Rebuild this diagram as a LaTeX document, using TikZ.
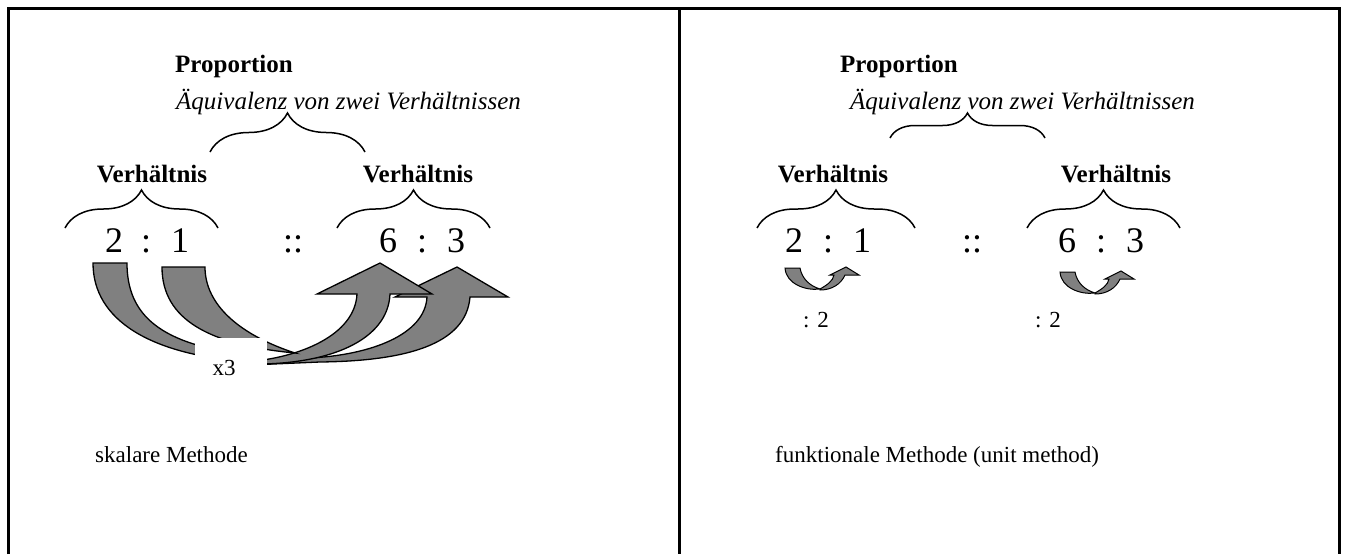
\documentclass[tikz,border=0pt]{standalone}
\usepackage{fontspec}
\setmainfont{Liberation Serif}
\usetikzlibrary{decorations.pathreplacing}
\definecolor{arrowgray}{HTML}{808080}

\begin{document}
\begin{tikzpicture}[x=1pt,y=-1pt,
  lbl/.style={font=\fontsize{25}{30}\selectfont\bfseries,inner sep=0pt,anchor=base},
  ital/.style={font=\fontsize{25}{30}\selectfont\itshape,inner sep=0pt,anchor=base west},
  num/.style={font=\fontsize{36}{40}\selectfont,inner sep=0pt,anchor=base},
  txt/.style={font=\fontsize{23}{28}\selectfont,inner sep=0pt,anchor=base west},
  brc/.style={decorate,decoration={brace,amplitude=#1},line width=1.5pt},
  bigarrow/.style={fill=arrowgray,draw=black,line width=1.3pt,line join=miter}]
  \useasboundingbox (0,0) rectangle (1348,554);
  % frame and divider
  \draw[line width=3pt] (8,554) -- (8,8) -- (1339,8) -- (1339,554);
  \draw[line width=3pt] (679,8) -- (679,554);

  % left panel: skalare Methode
  \node[lbl,anchor=base west] (propL) at (175,72) {Proportion};
  \node[ital] (aeqL) at (176,109) {Äquivalenz von zwei Verhältnissen};
  \draw[brc=39pt] (210,152) -- (365,152);
  \node[lbl] (verhLa) at (152,182) {Verhältnis};
  \node[lbl] (verhLb) at (418,182) {Verhältnis};
  \draw[brc=38pt] (65,228) -- (218,228);
  \draw[brc=38pt] (337,228) -- (490,228);
  \foreach \x/\t [count=\k] in {114/2,146/:,180/1,293/::,388/6,422/:,456/3}
    \node[num] (numL\k) at (\x,252) {\t};
  % up arrows to 6 and 3
  \draw[bigarrow] (250,364) -- (310,358) .. controls (370,355) and (425,335) .. (427,297)
    -- (395,297) -- (457,267) -- (508,297) -- (470,297)
    .. controls (466,345) and (405,361) .. (320,362) -- (250,365) -- cycle;
  \draw[bigarrow] (245,362) .. controls (300,358) and (355,335) .. (357,294)
    -- (317,294) -- (380,263) -- (432,294) -- (390,294)
    .. controls (388,340) and (330,366) .. (245,364) -- cycle;
  % bands down from 2 and 1
  \draw[bigarrow] (162,267) -- (205,267) .. controls (205,305) and (240,335) .. (295,353)
    .. controls (210,345) and (162,320) .. (162,267) -- cycle;
  \draw[bigarrow] (93,263) -- (127,263) .. controls (127,315) and (160,345) .. (250,355)
    -- (250,362) .. controls (150,355) and (93,320) .. (93,263) -- cycle;
  \node[fill=white,minimum width=72pt,minimum height=44pt,inner sep=0pt] (xbox) at (231,360) {};
  \node[txt,anchor=base] (xthree) at (224,375) {x3};
  \node[txt] (skal) at (95,462) {skalare Methode};

  % right panel: funktionale Methode
  \node[lbl,anchor=base west] (propR) at (840,72) {Proportion};
  \node[ital] (aeqR) at (850,109) {Äquivalenz von zwei Verhältnissen};
  \draw[brc=25pt] (890,138) -- (1045,138);
  \node[lbl] (verhRa) at (833,182) {Verhältnis};
  \node[lbl] (verhRb) at (1116,182) {Verhältnis};
  \draw[brc=38pt] (757,228) -- (915,228);
  \draw[brc=38pt] (1027,228) -- (1180,228);
  \foreach \x/\t [count=\k] in {794/2,828/:,862/1,972/::,1067/6,1101/:,1135/3}
    \node[num] (numR\k) at (\x,252) {\t};
  % small turning arrows
  \foreach \dx/\dy in {0/0,275/4}{
    \begin{scope}[shift={(\dx,\dy)}]
      \draw[bigarrow,line width=1pt] (820,289) .. controls (827,285) and (833,281) .. (834,275)
        -- (830,275) -- (846,267) -- (859,275) -- (845,275)
        .. controls (841,284) and (832,290) .. (820,290) -- cycle;
      \draw[bigarrow,line width=1pt] (785,268) -- (800,268) .. controls (802,279) and (810,286) .. (820,289)
        .. controls (806,291) and (786,284) .. (785,268) -- cycle;
    \end{scope}
  }
  \node[txt] (divA) at (803,327) {: 2};
  \node[txt] (divB) at (1035,327) {: 2};
  \node[txt] (funk) at (775,462) {funktionale Methode (unit method)};
\end{tikzpicture}
\end{document}
